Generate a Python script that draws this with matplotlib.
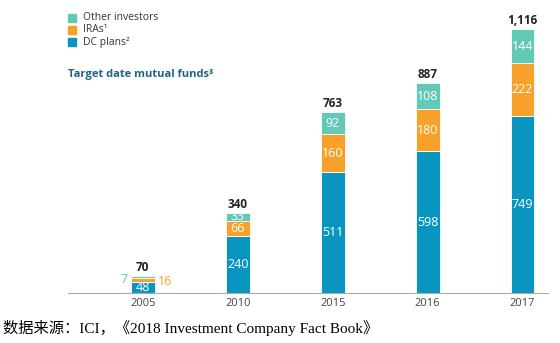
import matplotlib.pyplot as plt
from matplotlib.patches import Rectangle
import numpy as np

# Data
years = ["2005", "2010", "2015", "2016", "2017"]
dc_plans = [48, 240, 511, 598, 749]
iras = [16, 66, 160, 180, 222]
other = [7, 33, 92, 108, 144]
totals = ["70", "340", "763", "887", "1,116"]

c_dc = "#0896c0"
c_ira = "#f7a12a"
c_other = "#62c9b6"
c_title = "#1c6680"

plt.rcParams['font.family'] = ['Open Sans', 'DejaVu Sans']

fig = plt.figure(figsize=(5.6, 3.43), dpi=100)
ax = fig.add_axes([0.121, 0.146, 0.858, 0.854])

x = np.arange(len(years))
w = 0.25
dc = np.array(dc_plans)
ira = np.array(iras)
oth = np.array(other)

ax.bar(x, dc, w, color=c_dc, edgecolor="white", linewidth=0.6)
ax.bar(x, ira, w, bottom=dc, color=c_ira, edgecolor="white", linewidth=0.6)
ax.bar(x, oth, w, bottom=dc + ira, color=c_other, edgecolor="white", linewidth=0.6)

fs = 9
for i in range(len(years)):
    top = dc[i] + ira[i] + oth[i]
    ax.text(x[i], top + 8, totals[i], ha="center", va="bottom",
            fontsize=8.5, fontweight="bold", color="#222222")
    ax.text(x[i], dc[i] / 2, str(dc[i]), ha="center", va="center",
            fontsize=fs, color="white", fontweight="medium")
    if i == 0:
        ax.text(x[i] - w / 2 - 0.03, dc[i] + ira[i] * 0.6, str(oth[i]), ha="right",
                va="center", fontsize=fs, color=c_other)
        ax.text(x[i] + w / 2 + 0.03, dc[i] + ira[i] * 0.1, str(ira[i]), ha="left",
                va="center", fontsize=fs, color=c_ira)
        continue
    ax.text(x[i], dc[i] + ira[i] / 2, str(ira[i]), ha="center", va="center",
            fontsize=fs, color="white", fontweight="medium")
    ax.text(x[i], dc[i] + ira[i] + oth[i] / 2, str(oth[i]), ha="center",
            va="center", fontsize=fs, color="white", fontweight="medium")

ax.set_xlim(-0.79, 4.27)
ax.set_ylim(0, 1238)
ax.set_xticks(x)
ax.set_xticklabels(years, fontsize=8, color="#444444")
ax.tick_params(axis="x", length=0, pad=4)
ax.set_yticks([])
for s in ["top", "right", "left"]:
    ax.spines[s].set_visible(False)
ax.spines["bottom"].set_color("#aaaaaa")
ax.spines["bottom"].set_linewidth(0.8)

# Legend
legend_items = [("Other investors", c_other), ("IRAs\u00b9", c_ira), ("DC plans\u00b2", c_dc)]
for k, (lab, col) in enumerate(legend_items):
    yy = 1 - (18 + 12 * k) / 343
    fig.patches.append(Rectangle((68 / 560, yy - 4 / 343), 8 / 560, 8 / 343,
                                 transform=fig.transFigure, color=col))
    fig.text(83 / 560, yy, lab, fontsize=7.5, color="#333333", va="center")

fig.text(68 / 560, 1 - 74 / 343, "Target date mutual funds\u00b3", fontsize=8,
         fontweight="bold", color=c_title, va="center")

fig.text(3 / 560, 1 - 328 / 343, "数据来源：ICI，《2018 Investment Company Fact Book》",
         fontsize=11, color="black", va="center",
         family=["Liberation Serif", "Noto Sans CJK SC"])

fig.savefig("out.png", dpi=100)
